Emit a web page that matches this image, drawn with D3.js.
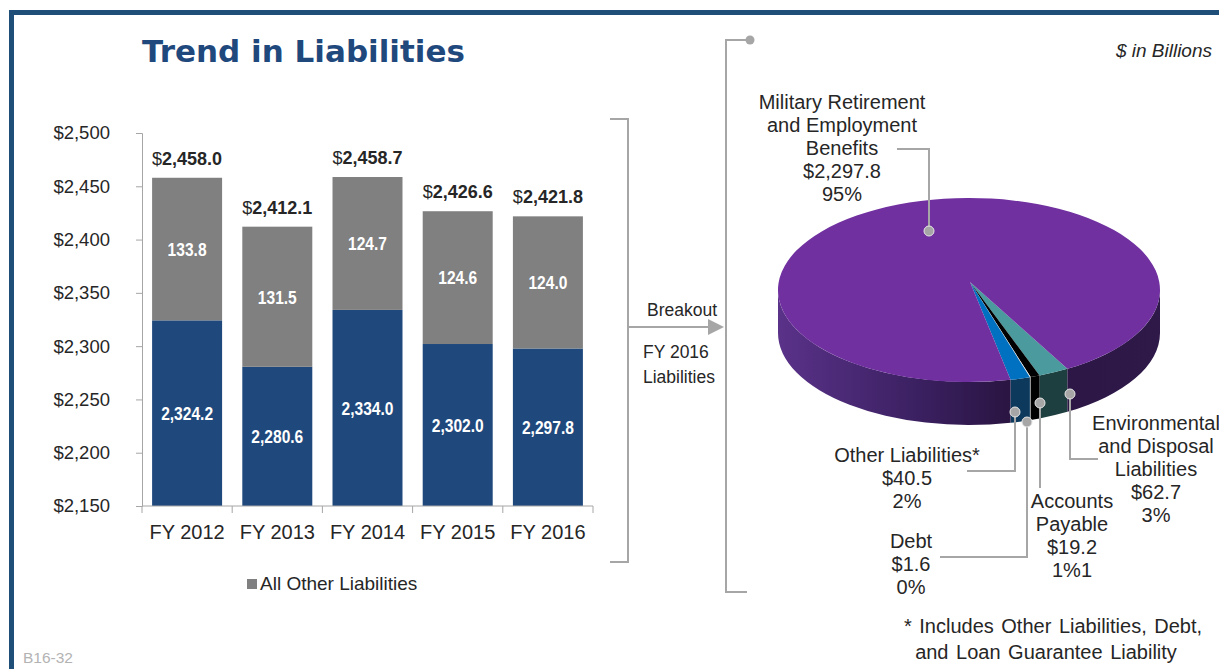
<!DOCTYPE html>
<html>
<head>
<meta charset="utf-8">
<script src="https://cdn.jsdelivr.net/npm/d3@7"></script>
<style>
  html, body { margin: 0; padding: 0; background: #fff; overflow: hidden; }
  text { font-family: "Liberation Sans", Arial, sans-serif; fill: #262626; }
</style>
</head>
<body>
<svg id="chart" width="1219" height="669"></svg>
<script>

/*---------- DATA ----------*/

var years = ['FY 2012', 'FY 2013', 'FY 2014', 'FY 2015', 'FY 2016'];
var militaryRetirement = [2324.2, 2280.6, 2334.0, 2302.0, 2297.8];
var allOtherLiabilities = [133.8, 131.5, 124.7, 124.6, 124.0];
var yTicks = [2150, 2200, 2250, 2300, 2350, 2400, 2450, 2500];

// FY 2016 breakout, clockwise from the front-right of the pie
var pieKeys = ['env', 'ap', 'debt', 'other', 'military'];
var pieValues = [62.7, 19.2, 1.6, 40.5, 2297.8];
var pieShares = ['3%', '1%1', '0%', '2%', '95%'];
var pieNames = [
  ['Environmental', 'and Disposal', 'Liabilities'],
  ['Accounts', 'Payable'],
  ['Debt'],
  ['Other Liabilities*'],
  ['Military Retirement', 'and Employment', 'Benefits']
];

/*---------- LAYOUT ----------*/

var svg = d3.select('#chart');
var grey = '#a6a6a6';

var defs = svg.append('defs');
var grad = defs.append('linearGradient')
  .attr('id', 'sideGrad')
  .attr('gradientUnits', 'userSpaceOnUse')
  .attr('x1', 778).attr('x2', 1160).attr('y1', 0).attr('y2', 0);
grad.append('stop').attr('offset', 0).attr('stop-color', '#5a3289');
grad.append('stop').attr('offset', 0.35).attr('stop-color', '#3c2163');
grad.append('stop').attr('offset', 0.6).attr('stop-color', '#2a1543');
grad.append('stop').attr('offset', 1).attr('stop-color', '#2e1949');

// frame
svg.append('rect')
  .attr('x', 11.5).attr('y', 12.5)
  .attr('width', 2000).attr('height', 2000)
  .attr('fill', 'none')
  .attr('stroke', '#1f4e79')
  .attr('stroke-width', 5);

svg.append('text')
  .attr('x', 142).attr('y', 62)
  .style('font-family', '"DejaVu Sans", Verdana, sans-serif')
  .style('font-weight', 'bold')
  .style('font-size', '31px')
  .style('fill', '#1f497d')
  .text('Trend in Liabilities');

svg.append('text')
  .attr('x', 23).attr('y', 663)
  .style('font-size', '15.5px')
  .style('fill', '#b3b3b3')
  .text('B16-32');

/*---------- BAR CHART ----------*/

var table = years.map(function(yr, i){
  return {year: yr, military: militaryRetirement[i], other: allOtherLiabilities[i]};
});

var stack = d3.stack().keys(['military', 'other']);
var series = stack(table);

var x = d3.scaleBand()
  .domain(years)
  .range([142, 593])
  .paddingInner(0.224)
  .paddingOuter(0.112);

var y = d3.scaleLinear()
  .domain([2150, 2500])
  .range([506, 133]);

var barColors = {military: '#1f497d', other: '#808080'};

var bars = svg.append('g');
bars.selectAll('g')
  .data(series)
  .enter().append('g')
    .attr('fill', function(d){ return barColors[d.key]; })
  .selectAll('rect')
  .data(function(d){ return d; })
  .enter().append('rect')
    .attr('x', function(d){ return x(d.data.year); })
    .attr('width', x.bandwidth())
    .attr('y', function(d){ return y(Math.max(d[1], 2150)); })
    .attr('height', function(d){ return y(Math.max(d[0], 2150)) - y(d[1]); });

// segment labels (narrow bold look)
var fmt = d3.format(',.1f');
series.forEach(function(s){
  svg.append('g').selectAll('text')
    .data(s)
    .enter().append('text')
      .attr('transform', function(d){
        var cx = x(d.data.year) + x.bandwidth()/2;
        var cy = (y(Math.max(d[0], 2150)) + y(d[1]))/2;
        return 'translate(' + cx + ',' + cy + ') scale(0.82,1)';
      })
      .attr('dy', '0.36em')
      .attr('text-anchor', 'middle')
      .style('font-weight', 'bold')
      .style('font-size', '19px')
      .style('fill', '#fff')
      .text(function(d){ return fmt(d[1] - d[0]); });
});

// totals
var totals = svg.append('g').selectAll('text')
  .data(table)
  .enter().append('text')
    .attr('x', function(d){ return x(d.year) + x.bandwidth()/2; })
    .attr('y', function(d){ return y(d.military + d.other) - 13; })
    .attr('text-anchor', 'middle')
    .style('font-size', '18px');
totals.append('tspan').text('$');
totals.append('tspan')
  .style('font-weight', 'bold')
  .text(function(d){ return fmt(d.military + d.other); });

// y axis
var yAxis = svg.append('g')
  .attr('transform', 'translate(142,0)')
  .call(d3.axisLeft(y)
    .tickValues(yTicks)
    .tickSize(6)
    .tickPadding(26)
    .tickFormat(function(d){ return '$' + d3.format(',')(d); }));
yAxis.select('.domain').attr('stroke', grey);
yAxis.selectAll('.tick line').attr('stroke', grey);
yAxis.selectAll('.tick text')
  .style('font-family', '"Liberation Sans", Arial, sans-serif')
  .style('font-size', '18.5px')
  .style('fill', '#262626');

// x axis
var xAxis = svg.append('g');
var x0 = x.range()[0], x1 = x.range()[1];
xAxis.append('line')
  .attr('x1', x0).attr('x2', x1)
  .attr('y1', y(2150)).attr('y2', y(2150))
  .attr('stroke', grey);
xAxis.selectAll('line.tk')
  .data(d3.range(years.length + 1))
  .enter().append('line')
    .attr('class', 'tk')
    .attr('x1', function(i){ return x0 + i*(x1 - x0)/years.length; })
    .attr('x2', function(i){ return x0 + i*(x1 - x0)/years.length; })
    .attr('y1', y(2150)).attr('y2', y(2150) + 7)
    .attr('stroke', grey);
xAxis.selectAll('text')
  .data(years)
  .enter().append('text')
    .attr('x', function(d){ return x(d) + x.bandwidth()/2; })
    .attr('y', 539)
    .attr('text-anchor', 'middle')
    .style('font-size', '20px')
    .text(function(d){ return d; });

// legend
svg.append('rect')
  .attr('x', 247).attr('y', 579)
  .attr('width', 10).attr('height', 10)
  .attr('fill', barColors.other);
svg.append('text')
  .attr('x', 260).attr('y', 590)
  .style('font-size', '19px')
  .text('All Other Liabilities');

/*---------- BRACKETS ----------*/

var brk = svg.append('g')
  .attr('fill', 'none')
  .attr('stroke', grey)
  .attr('stroke-width', 2);
brk.append('path').attr('d', 'M610,119H628V562H610');
brk.append('path').attr('d', 'M628,327H709');
brk.append('path').attr('d', 'M750,40H726V592H747');
svg.append('path')
  .attr('d', 'M708,319L724,327L708,335Z')
  .attr('fill', grey);
svg.append('circle')
  .attr('cx', 750).attr('cy', 40).attr('r', 4.5)
  .attr('fill', grey);

svg.append('text')
  .attr('x', 717).attr('y', 316)
  .attr('text-anchor', 'end')
  .style('font-size', '17.5px')
  .text('Breakout');
svg.append('text')
  .attr('x', 643).attr('y', 358)
  .style('font-size', '17.5px')
  .text('FY 2016');
svg.append('text')
  .attr('x', 643).attr('y', 383)
  .style('font-size', '17.5px')
  .text('Liabilities');

svg.append('text')
  .attr('x', 1212).attr('y', 57)
  .attr('text-anchor', 'end')
  .style('font-size', '19px')
  .style('font-style', 'italic')
  .text('$ in Billions');

/*---------- PIE ----------*/

var pc = {cx: 969, cy: 290, rx: 191, ry: 92, depth: 43, ax: 970, ay: 282};
var topColors = ['#4a9a9e', '#000000', '#f2f2f2', '#0070c0', '#7030a0'];
var sideColors = ['#1e3f40', '#000000', '#8c8c8c', '#0d3a5c', 'url(#sideGrad)'];

var pie = d3.pie()
  .sort(null)
  .startAngle(149*Math.PI/180)
  .endAngle((149 + 360)*Math.PI/180);
var arcs = pie(pieValues);

function pt(a, dy){
  return [pc.cx + pc.rx*Math.sin(a), pc.cy - pc.ry*Math.cos(a) + (dy || 0)];
}

function sidePath(a0, a1){
  var p0 = pt(a0), p1 = pt(a1), q1 = pt(a1, pc.depth), q0 = pt(a0, pc.depth);
  return 'M' + p0 + 'A' + pc.rx + ',' + pc.ry + ' 0 0 1 ' + p1 +
    'L' + q1 + 'A' + pc.rx + ',' + pc.ry + ' 0 0 0 ' + q0 + 'Z';
}

function topPath(d){
  var big = (d.endAngle - d.startAngle) > Math.PI ? 1 : 0;
  return 'M' + pc.ax + ',' + pc.ay + 'L' + pt(d.startAngle) +
    'A' + pc.rx + ',' + pc.ry + ' 0 ' + big + ' 1 ' + pt(d.endAngle) + 'Z';
}

var pieG = svg.append('g');

// front walls
arcs.forEach(function(d, i){
  [[Math.PI/2, 3*Math.PI/2], [Math.PI/2 + 2*Math.PI, 3*Math.PI/2 + 2*Math.PI]].forEach(function(w){
    var a0 = Math.max(d.startAngle, w[0]), a1 = Math.min(d.endAngle, w[1]);
    if(a1 > a0){
      pieG.append('path')
        .attr('d', sidePath(a0, a1))
        .attr('fill', sideColors[i]);
    }
  });
});

// top surface
pieG.selectAll('path.top')
  .data(arcs)
  .enter().append('path')
    .attr('class', 'top')
    .attr('d', topPath)
    .attr('fill', function(d, i){ return topColors[i]; });

/*---------- CALLOUTS ----------*/

var callouts = {
  env:      {dot: [1070, 394], path: 'M1070,394V459H1098', x: 1156, y: 430},
  ap:       {dot: [1040, 403], path: 'M1040,403V488',      x: 1072, y: 508},
  debt:     {dot: [1027, 422], path: 'M1027,422V557H940',  x: 911,  y: 548},
  other:    {dot: [1015, 412], path: 'M1015,412V471H967',  x: 907,  y: 462},
  military: {dot: [929, 231],  path: 'M929,231V149H897',   x: 842,  y: 109}
};

var lbl = svg.append('g');
pieKeys.forEach(function(k, i){
  var c = callouts[k];
  lbl.append('path')
    .attr('d', c.path)
    .attr('fill', 'none')
    .attr('stroke', grey)
    .attr('stroke-width', 2);
  lbl.append('circle')
    .attr('cx', c.dot[0]).attr('cy', c.dot[1]).attr('r', 5)
    .attr('fill', grey)
    .attr('stroke', '#e6e6e6')
    .attr('stroke-width', 1);

  var lines = pieNames[i].concat(['$' + d3.format(',.1f')(pieValues[i]), pieShares[i]]);
  var t = lbl.append('text')
    .attr('text-anchor', 'middle')
    .style('font-size', '20px');
  lines.forEach(function(s, j){
    t.append('tspan')
      .attr('x', c.x)
      .attr('y', c.y + j*23)
      .text(s);
  });
});

svg.append('text')
  .attr('x', 1053).attr('y', 633)
  .attr('text-anchor', 'middle')
  .style('font-size', '20px')
  .style('word-spacing', '2px')
  .text('* Includes Other Liabilities, Debt,');
svg.append('text')
  .attr('x', 1046).attr('y', 659)
  .attr('text-anchor', 'middle')
  .style('font-size', '20px')
  .style('word-spacing', '2px')
  .text('and Loan Guarantee Liability');

</script>
</body>
</html>
